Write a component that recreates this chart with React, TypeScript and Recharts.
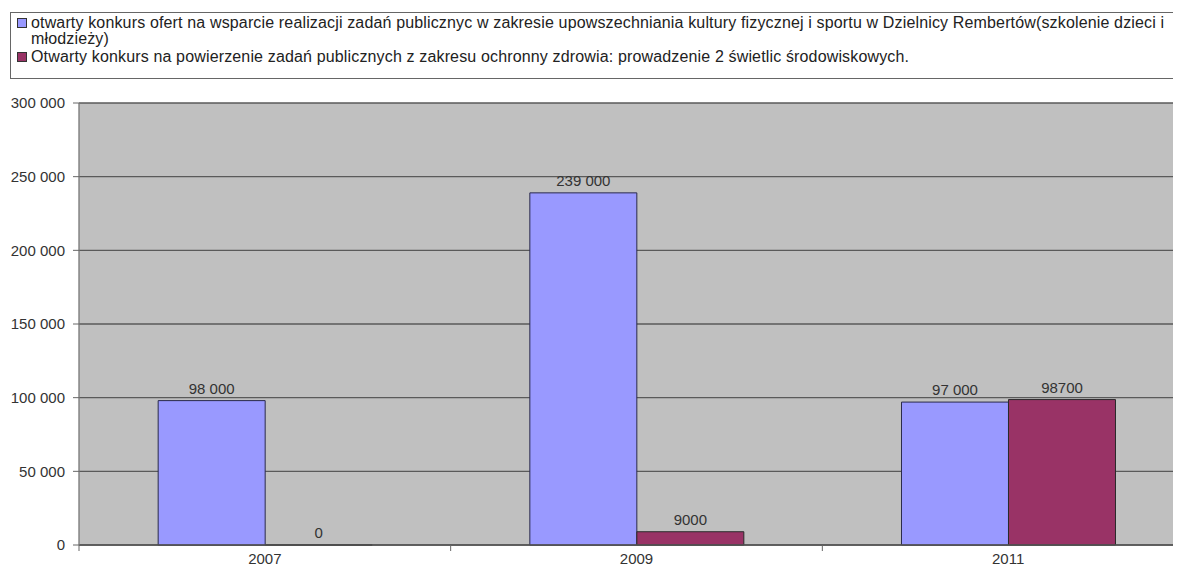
import React from "react";
import { BarChart, Bar, XAxis, YAxis, CartesianGrid, LabelList } from "recharts";

const years = ["2007", "2009", "2011"];
const sportValues = [98000, 239000, 97000];
const healthValues = [0, 9000, 98700];
const sportLabels = ["98 000", "239 000", "97 000"];
const healthLabels = ["0", "9000", "98700"];
const yTicks = [0, 50000, 100000, 150000, 200000, 250000, 300000];
const seriesNames = [
  "otwarty konkurs ofert na wsparcie realizacji zadań publicznyc w zakresie upowszechniania kultury fizycznej i sportu w Dzielnicy Rembertów(szkolenie dzieci i młodzieży)",
  "Otwarty konkurs na powierzenie zadań publicznych z zakresu ochronny zdrowia: prowadzenie 2 świetlic środowiskowych.",
];
const seriesColors = ["#9999ff", "#993366"];

const data = years.map((y, i) => ({
  year: y,
  sport: sportValues[i],
  health: healthValues[i],
  sportLabel: sportLabels[i],
  healthLabel: healthLabels[i],
}));

const CHART_W = 1200;
const CHART_H = 572;
const M_TOP = 103;
const M_LEFT = 0;
const M_RIGHT = 6;
const Y_W = 79;
const X_H = 27;
const AXIS_Y = CHART_H - X_H;
const FONT = "'Liberation Sans', Arial, sans-serif";

const fmt = (v: number) => String(v).replace(/\B(?=(\d{3})+(?!\d))/g, " ");

const XTick = (props: any) => {
  const { x, payload } = props;
  const step = (CHART_W - M_LEFT - M_RIGHT - Y_W) / years.length;
  const bx = x - step / 2;
  return (
    <g>
      <line x1={bx} y1={AXIS_Y} x2={bx} y2={AXIS_Y + 6} stroke="#666" strokeWidth={1} />
      <text x={x} y={AXIS_Y + 19} textAnchor="middle" fill="#333" fontSize={15} fontFamily={FONT}>
        {payload.value}
      </text>
    </g>
  );
};

const renderLabel = (props: any) => {
  const { x, y, width, value } = props;
  if (x == null || y == null) return null;
  return (
    <text
      x={Number(x) + Number(width) / 2}
      y={Number(y) - 7}
      textAnchor="middle"
      fill="#333"
      fontSize={15}
      fontFamily={FONT}
    >
      {value}
    </text>
  );
};

const tinyMin = (value: any) => (value === 0 ? 0.01 : 0);

export default function App() {
  return (
    <div style={{ position: "relative", width: 1165, height: 556 }}>
      <div
        style={{
          position: "absolute",
          left: -8,
          top: -8,
          width: 1181,
          height: 572,
          overflow: "hidden",
          background: "#fff",
          fontFamily: FONT,
        }}
      >
        <BarChart
          width={CHART_W}
          height={CHART_H}
          data={data}
          margin={{ top: M_TOP, right: M_RIGHT, bottom: 0, left: M_LEFT }}
          barCategoryGap="21.3%"
          barGap={0}
        >
          <CartesianGrid
            vertical={false}
            stroke="#5a5a5a"
            strokeWidth={1.3}
            fill="#c0c0c0"
            fillOpacity={1}
          />
          <XAxis
            dataKey="year"
            height={X_H}
            tickLine={false}
            axisLine={{ stroke: "#555", strokeWidth: 1.3 }}
            tick={<XTick />}
            interval={0}
          />
          <YAxis
            width={Y_W}
            domain={[0, 300000]}
            ticks={yTicks}
            tickFormatter={fmt}
            tickSize={6}
            tickMargin={8}
            tickLine={{ stroke: "#666" }}
            axisLine={{ stroke: "#777", strokeWidth: 1.3 }}
            tick={{ fill: "#333", fontSize: 15, fontFamily: FONT }}
          />
          <Bar dataKey="sport" fill={seriesColors[0]} stroke="#2a2a4a" strokeWidth={1} isAnimationActive={false}>
            <LabelList dataKey="sportLabel" content={renderLabel} />
          </Bar>
          <Bar
            dataKey="health"
            fill={seriesColors[1]}
            stroke="#2a2a2a"
            strokeWidth={1}
            minPointSize={tinyMin}
            isAnimationActive={false}
          >
            <LabelList dataKey="healthLabel" content={renderLabel} />
          </Bar>
        </BarChart>
        <div
          style={{
            position: "absolute",
            left: 10,
            top: 12,
            width: 1200,
            height: 67,
            border: "1px solid #666",
            boxSizing: "border-box",
            paddingTop: 2,
            fontSize: 16,
            letterSpacing: "0.15px",
            color: "#222",
            lineHeight: "16px",
          }}
        >
          {seriesNames.map((name, i) => (
            <div key={i} style={{ display: "flex", alignItems: "flex-start", marginBottom: 2 }}>
              <span
                style={{
                  display: "inline-block",
                  width: 8,
                  height: 8,
                  marginLeft: 6,
                  marginTop: 3,
                  marginRight: 4,
                  background: seriesColors[i],
                  border: "1px solid #333",
                  flex: "none",
                }}
              />
              <span style={{ width: 1142 }}>{name}</span>
            </div>
          ))}
        </div>
      </div>
    </div>
  );
}
